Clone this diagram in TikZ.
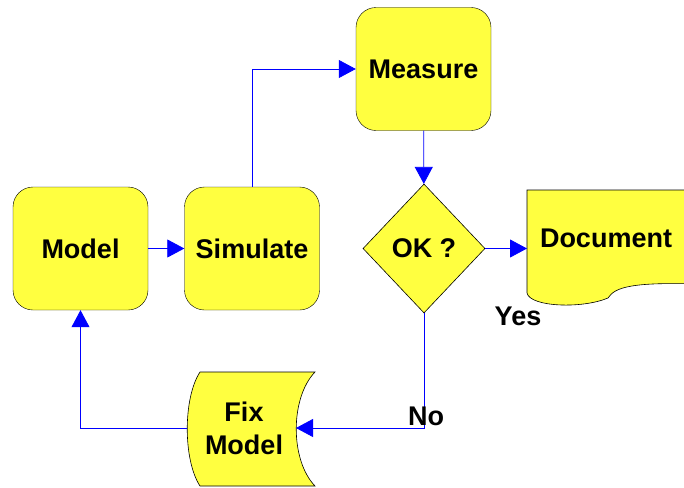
\documentclass[tikz,border=0pt]{standalone}
\usepackage{fontspec}
\setmainfont{Liberation Sans}
\usetikzlibrary{shapes.geometric,arrows.meta}
\definecolor{boxyellow}{RGB}{255,255,64}
\definecolor{flowblue}{RGB}{0,0,255}
\tikzset{
  box/.style={draw=black,fill=boxyellow,rounded corners=20pt,minimum width=135pt,minimum height=123pt,inner sep=0pt},
  shapefill/.style={draw=black,fill=boxyellow,line width=0.6pt},
  flow/.style={draw=flowblue,line width=0.8pt,-{Triangle[length=17pt,width=18pt]}},
  lbl/.style={inner sep=0pt}
}
\begin{document}
\begin{tikzpicture}[x=1pt,y=-1pt,font=\fontsize{27}{33}\selectfont\bfseries]
    \clip (0,0) rectangle (684,487);
    % process boxes
    \node[box] (model) at (80.5,248.5) {Model};
    \node[box] (simulate) at (252,248.5) {Simulate};
    \node[box] (measure) at (423.5,69) {Measure};
    \node[shapefill,shape=diamond,minimum width=122pt,minimum height=129pt,inner sep=0pt] (ok) at (424,248.5) {OK ?};
    % document
    \filldraw[shapefill] (527,190) -- (527,293) .. controls (530,307) and (582,309) .. (608,298)
        .. controls (615,287) and (632,282) .. (700,284) -- (700,190) -- cycle;
    \node[lbl] (doc) at (606,238) {Document};
    \coordinate (docw) at (527,248.5);
    % stored data
    \filldraw[shapefill] (200,372) -- (315,372) .. controls (290,398) and (290,460) .. (315,486)
        -- (200,486) .. controls (183,460) and (183,398) .. (200,372) -- cycle;
    \node[lbl,align=center] (fix) at (244,428) {Fix\\Model};
    \coordinate (fixe) at (296,428);
    \coordinate (fixw) at (187,428);
    % connectors
    \draw[flow] (model) -- (simulate);
    \draw[flow] (simulate.north) |- (measure.west);
    \draw[flow] (measure) -- (ok);
    \draw[flow] (ok.east) -- (docw);
    \draw[flow] (ok.south) |- (fixe);
    \draw[flow] (fixw) -| (model.south);
    \node[lbl] (yes) at (518,316) {Yes};
    \node[lbl] (no) at (426,416) {No};
\end{tikzpicture}
\end{document}
